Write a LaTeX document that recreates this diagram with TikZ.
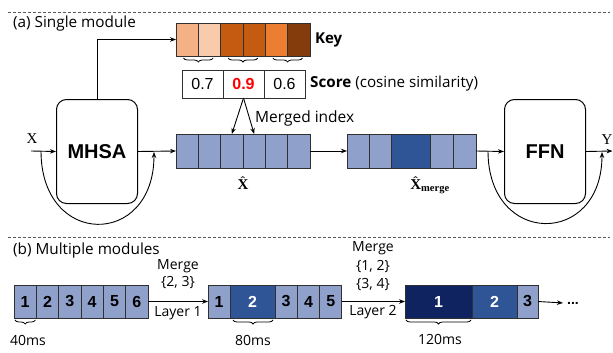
\documentclass[tikz,border=0pt]{standalone}
\usepackage{amsmath}
\usepackage[no-math]{fontspec}
\setmainfont{Open Sans}
\newfontfamily\arialf{Liberation Sans}
\newfontfamily\seriff{Liberation Serif}
\newcommand{\bX}{\text{\seriff\bfseries X}}
\newcommand{\bmerge}{\text{\seriff\bfseries merge}}
\usetikzlibrary{arrows.meta,decorations.pathreplacing,calc}
\definecolor{kA}{HTML}{F4B183}
\definecolor{kB}{HTML}{F8CBAD}
\definecolor{kC}{HTML}{C55A11}
\definecolor{kD}{HTML}{ED7D31}
\definecolor{kE}{HTML}{843C0C}
\definecolor{tokL}{HTML}{8FA0CB}
\definecolor{tokM}{HTML}{2F5597}
\definecolor{tokD}{HTML}{0E2360}
\definecolor{edgec}{HTML}{303030}
\begin{document}
\begin{tikzpicture}[x=1pt,y=-1pt,
  cell/.style={draw=edgec, line width=0.9pt, inner sep=0pt, outer sep=0pt, anchor=north west},
  numf/.style={font=\arialf\bfseries\fontsize{16}{16}\selectfont},
  scoref/.style={font=\arialf\fontsize{16}{16}\selectfont},
  lab/.style={font=\fontsize{14}{14}\selectfont, inner sep=0pt},
  ttl/.style={font=\fontsize{15.3}{15.3}\selectfont, inner sep=0pt, anchor=base west},
  mlab/.style={inner sep=0pt, font=\fontsize{15}{15}\selectfont\boldmath},
  blockbox/.style={draw=black, line width=1pt, rounded corners=10pt, minimum width=81pt, minimum height=104pt, anchor=north west, font=\arialf\bfseries\fontsize{20}{20}\selectfont},
  arr/.style={-{Stealth[length=6pt,width=4.5pt]}, line width=0.9pt},
  brc/.style={decorate, decoration={brace, mirror, amplitude=4pt}, line width=0.8pt},
  sep/.style={dashed, dash pattern=on 3pt off 2pt, draw=black!65, line width=0.7pt}
]
\useasboundingbox (0,0) rectangle (613,353);
% separators
\draw[sep] (8,12) -- (610,12);
\draw[sep] (8,237) -- (610,237);
\node[ttl] (tA) at (13,28) {(a) Single module};
\node[ttl] (tB) at (13,254) {(b) Multiple modules};

% Key cells
\foreach \c [count=\i] in {kA,kB,kC,kC,kD,kE}
  \node[cell, fill=\c, minimum width=22.33pt, minimum height=33pt] (k\i) at ({176+(\i-1)*22.33},23) {};
\node[anchor=west, inner sep=0pt, font=\bfseries\fontsize{15}{15}\selectfont] (keyl) at (315,40) {Key};
% braces under key
\draw[brc] ([xshift=7.5pt,yshift=-2pt]k1.south west) -- ([xshift=-7.5pt,yshift=-2pt]k2.south east);
\draw[brc] ([xshift=7.5pt,yshift=-2pt]k3.south west) -- ([xshift=-7.5pt,yshift=-2pt]k4.south east);
\draw[brc] ([xshift=7.5pt,yshift=-2pt]k5.south west) -- ([xshift=-7.5pt,yshift=-2pt]k6.south east);

% Score cells
\node[cell, fill=white, minimum width=41pt, minimum height=28pt, scoref] (s1) at (182,70) {0.7};
\node[cell, fill=white, minimum width=41pt, minimum height=28pt, font=\arialf\bfseries\fontsize{16}{16}\selectfont, text=red] (s2) at (223,70) {0.9};
\node[cell, fill=white, minimum width=41pt, minimum height=28pt, scoref] (s3) at (264,70) {0.6};
\node[anchor=west, inner sep=0pt, font=\fontsize{15.2}{15.2}\selectfont] (scorel) at (310,84) {\textbf{Score} (cosine similarity)};

% blocks
\node[blockbox] (mhsa) at (56,99) {MHSA};
\node[blockbox] (ffn) at (504,99) {FFN};

% X hat cells
\foreach \i in {1,...,6}
  \node[cell, fill=tokL, minimum width=22.33pt, minimum height=34pt] (x\i) at ({176+(\i-1)*22.33},134) {};
\node[mlab] (xhl) at (243,183) {$\hat{\bX}$};

% X merge cells
\node[cell, fill=tokL, minimum width=22.3pt, minimum height=34pt] (m1) at (347,134) {};
\node[cell, fill=tokL, minimum width=22.3pt, minimum height=34pt] (m2) at (369.3,134) {};
\node[cell, fill=tokM, minimum width=39pt, minimum height=34pt] (m3) at (391.6,134) {};
\node[cell, fill=tokL, minimum width=22.7pt, minimum height=34pt] (m4) at (430.6,134) {};
\node[cell, fill=tokL, minimum width=22.7pt, minimum height=34pt] (m5) at (453.3,134) {};
\node[mlab] (xml) at (430,185) {$\hat{\bX}_{\bmerge}$};

% connectors in (a)
\coordinate (xin) at (31,151);
\coordinate (yout) at (612.5,151);
\coordinate (r1s) at (41,151);
\coordinate (r1e) at (154,152);
\coordinate (r2s) at (488,151);
\coordinate (r2e) at (602,152);
\node[inner sep=0pt, font=\seriff\fontsize{15}{15}\selectfont] (xlab) at (32,139) {X};
\node[inner sep=0pt, font=\seriff\fontsize{15}{15}\selectfont] (ylab) at (607,140) {Y};
\draw[arr] (xin) -- (mhsa.west);
\draw[arr] (mhsa.east) -- (x1.west);
\draw[arr] (r1s) .. controls (41,248) and (154,248) .. (r1e);
\draw[arr] (x6.east) -- (m1.west);
\draw[arr] (m5.east) -- (ffn.west);
\draw[arr] (r2s) .. controls (488,247) and (602,247) .. (r2e);
\draw[arr] (ffn.east) -- (yout);
\draw[arr] (mhsa.north) |- (k1.west);
\draw[arr] (s2.south) -- (x3.north);
\draw[arr] (s2.south) -- (x4.north);
\node[anchor=base west, inner sep=0pt, font=\fontsize{15.5}{15.5}\selectfont] (mil) at (255,122) {Merged index};

% (b) rows
\foreach \i in {1,...,6}
  \node[cell, fill=tokL, minimum width=22.33pt, minimum height=33pt, numf] (b\i) at ({14+(\i-1)*22.33},285) {\i};
\node[cell, fill=tokL, minimum width=22pt, minimum height=33pt, numf] (c1) at (208,285) {1};
\node[cell, fill=tokM, minimum width=45pt, minimum height=33pt, numf, text=white] (c2) at (230,285) {2};
\node[cell, fill=tokL, minimum width=22.3pt, minimum height=33pt, numf] (c3) at (275,285) {3};
\node[cell, fill=tokL, minimum width=22.3pt, minimum height=33pt, numf] (c4) at (297.3,285) {4};
\node[cell, fill=tokL, minimum width=22.3pt, minimum height=33pt, numf] (c5) at (319.6,285) {5};
\node[cell, fill=tokD, minimum width=67pt, minimum height=33pt, numf, text=white] (d1) at (405,285) {1};
\node[cell, fill=tokM, minimum width=45pt, minimum height=33pt, numf, text=white] (d2) at (472,285) {2};
\node[cell, fill=tokL, minimum width=21pt, minimum height=33pt, numf] (d3) at (517,285) {3};
\node[anchor=base west, inner sep=0pt, font=\arialf\bfseries\fontsize{14}{14}\selectfont] (dots) at (567,304) {...};

\draw[arr] (b6.east) -- (c1.west);
\draw[arr] (c5.east) -- (d1.west);
\draw[arr] (d3.east) -- ([xshift=-4pt]dots.west);

\node[lab] (mg1) at (178,266) {Merge};
\node[lab] (st1) at (178,283) {\{2, 3\}};
\node[lab] (ly1) at (178,313) {Layer 1};
\node[lab] (mg2) at (373,248) {Merge};
\node[lab] (st2) at (373,267) {\{1, 2\}};
\node[lab] (st3) at (373,285) {\{3, 4\}};
\node[lab] (ly2) at (373,312) {Layer 2};

\draw[brc] ([xshift=1pt,yshift=-2pt]b1.south west) -- ([xshift=-1pt,yshift=-2pt]b1.south east);
\draw[brc] ([xshift=3pt,yshift=-2pt]c2.south west) -- ([xshift=-2pt,yshift=-2pt]c2.south east);
\draw[brc] ([xshift=1pt,yshift=-2pt]d1.south west) -- ([xshift=-1pt,yshift=-2pt]d1.south east);
\node[lab] (t40) at (28,340) {40ms};
\node[lab] (t80) at (253,340) {80ms};
\node[lab] (t120) at (440,339) {120ms};
\end{tikzpicture}
\end{document}
